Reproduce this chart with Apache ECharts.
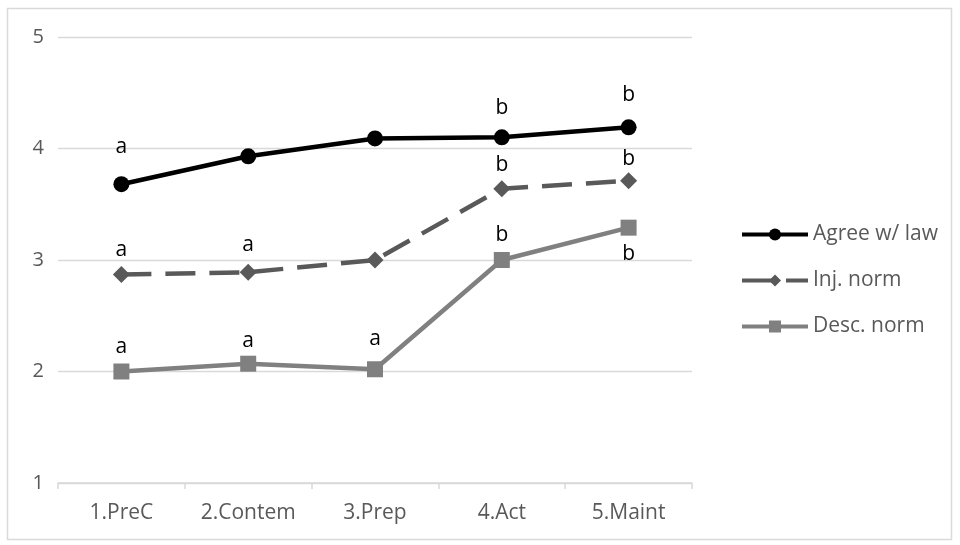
<!DOCTYPE html>
<html><head><meta charset="utf-8">
<script src="https://cdn.jsdelivr.net/npm/echarts@6/dist/echarts.min.js"></script>
<style>html,body{margin:0;padding:0;background:#fff}#c{width:960px;height:545px}</style>
</head><body><div id="c"></div>
<script>
const categories = ['1.PreC','2.Contem','3.Prep','4.Act','5.Maint'];
const agreeValues = [3.68, 3.93, 4.09, 4.10, 4.19];
const injValues = [2.87, 2.89, 3.00, 3.64, 3.71];
const descValues = [2.00, 2.07, 2.02, 3.00, 3.29];
const agreeLetters = ['a','','','b','b'];
const injLetters = ['a','a','','b','b'];
const descLetters = ['a','a','a','b','b'];
const yTicks = [1,2,3,4,5];

function withLabels(vals, letters, dist, belowIdx) {
  return vals.map((v,i)=>({
    value: v,
    label: {
      show: letters[i] !== '',
      formatter: letters[i],
      position: i === belowIdx ? 'bottom' : 'top',
      distance: dist[i]
    }
  }));
}

const FONT = 'Open Sans';
const chart = echarts.init(document.getElementById('c'));
const labelStyle = {color:'#000', fontSize:21, fontFamily:FONT};
chart.setOption({
  animation:false,
  grid:{left:58, right:268, top:37, bottom:62},
  graphic:[{type:'rect', shape:{x:7.5,y:8.5,width:944,height:531}, style:{fill:'none', stroke:'#d9d9d9', lineWidth:1.5}, silent:true}],
  legend:{
    orient:'vertical', left:735, top:219, itemGap:25, itemWidth:66, itemHeight:15,
    lineStyle:{width:4},
    textStyle:{color:'#595959', fontSize:21, fontFamily:FONT},
    data:['Agree w/ law','Inj. norm','Desc. norm']
  },
  xAxis:{
    type:'category', data:categories, boundaryGap:true,
    axisLine:{lineStyle:{color:'#d9d9d9', width:1.5}},
    axisTick:{show:true, length:6, lineStyle:{color:'#d9d9d9', width:1.5}},
    axisLabel:{color:'#595959', fontSize:21, margin:20, fontFamily:FONT}
  },
  yAxis:{
    type:'value', min:yTicks[0], max:yTicks[yTicks.length-1], interval:1,
    axisLine:{show:false}, axisTick:{show:false},
    splitLine:{lineStyle:{color:'#d9d9d9', width:1.3}},
    axisLabel:{color:'#595959', fontSize:20, margin:14, fontFamily:FONT}
  },
  series:[
    {name:'Agree w/ law', type:'line', data:withLabels(agreeValues, agreeLetters, [19,0,0,11,14]),
     symbol:'circle', symbolSize:16, itemStyle:{color:'#000'}, lineStyle:{color:'#000', width:4.5},
     label:labelStyle},
    {name:'Inj. norm', type:'line', data:withLabels(injValues, injLetters, [5,8,0,5,3]),
     symbol:'diamond', symbolSize:17, itemStyle:{color:'#595959'}, lineStyle:{color:'#595959', width:4.5, type:[30,14]},
     label:labelStyle},
    {name:'Desc. norm', type:'line', data:withLabels(descValues, descLetters, [6,4,12,6,8], 4),
     symbol:'rect', symbolSize:16, itemStyle:{color:'#808080'}, lineStyle:{color:'#808080', width:4.5},
     label:labelStyle}
  ]
});
</script></body></html>
